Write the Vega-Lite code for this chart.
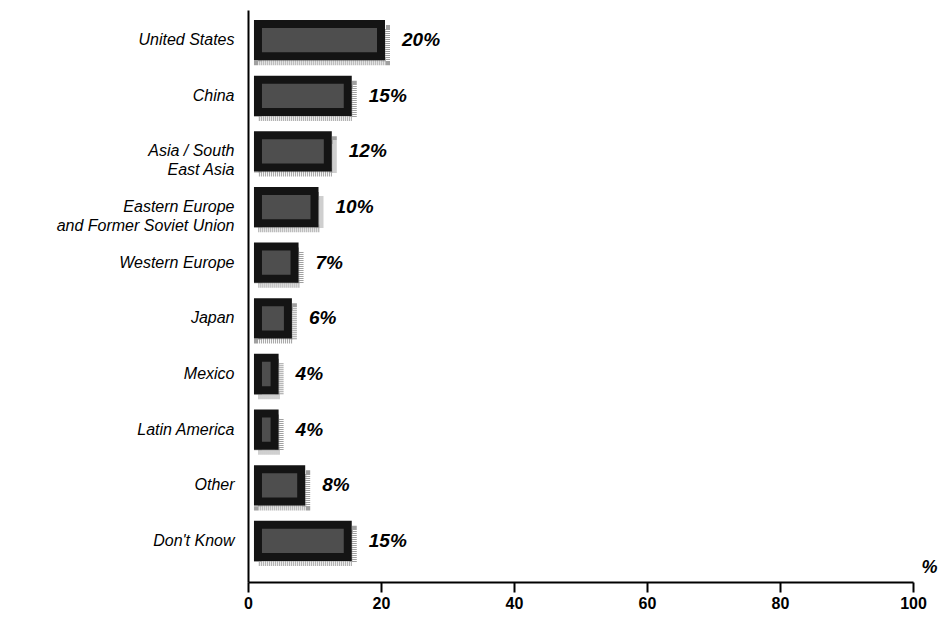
{
  "$schema": "https://vega.github.io/schema/vega-lite/v6.json",
  "width": 665,
  "height": 572,
  "autosize": "none",
  "padding": {"left": 248, "top": 10, "right": 28, "bottom": 36},
  "background": "white",
  "config": {
    "view": {"stroke": null},
    "font": "Liberation Sans"
  },
  "data": {
    "values": [
      {"region": "United States", "pct": 20, "label": "20%"},
      {"region": "China", "pct": 15, "label": "15%"},
      {"region": "Asia / South|East Asia", "pct": 12, "label": "12%"},
      {"region": "Eastern Europe|and Former Soviet Union", "pct": 10, "label": "10%"},
      {"region": "Western Europe", "pct": 7, "label": "7%"},
      {"region": "Japan", "pct": 6, "label": "6%"},
      {"region": "Mexico", "pct": 4, "label": "4%"},
      {"region": "Latin America", "pct": 4, "label": "4%"},
      {"region": "Other", "pct": 8, "label": "8%"},
      {"region": "Don't Know", "pct": 15, "label": "15%"}
    ]
  },
  "encoding": {
    "y": {
      "field": "region",
      "type": "nominal",
      "sort": null,
      "scale": {"paddingInner": 0.42, "paddingOuter": 0.35, "align": 0.36},
      "axis": {
        "title": null,
        "ticks": false,
        "domainColor": "#000",
        "domainWidth": 2,
        "labelPadding": 14,
        "labelFont": "Liberation Sans",
        "labelFontStyle": "italic",
        "labelFontSize": 16,
        "labelColor": "#000",
        "labelLineHeight": 19,
        "labelExpr": "split(datum.label, '|')"
      }
    }
  },
  "layer": [
    {
      "mark": {"type": "bar", "xOffset": 5, "yOffset": 5, "fill": "#d8d8d8", "stroke": "#a0a0a0", "strokeWidth": 8, "strokeDash": [1, 1]},
      "encoding": {
        "x": {"field": "pct", "type": "quantitative"},
        "x2": {"datum": 1.5}
      }
    },
    {
      "mark": {"type": "bar", "fill": "#4e4e4e", "stroke": "#141414", "strokeWidth": 8},
      "encoding": {
        "x": {
          "field": "pct",
          "type": "quantitative",
          "scale": {"domain": [0, 100], "nice": false},
          "axis": {
            "values": [0, 20, 40, 60, 80, 100],
            "grid": false,
            "title": "%",
            "titleFont": "Liberation Sans",
            "titleFontStyle": "italic",
            "titleFontWeight": "bold",
            "titleFontSize": 18,
            "titleColor": "#000",
            "titleAlign": "left",
            "titleBaseline": "middle",
            "titleAnchor": "start",
            "titleX": 673,
            "titleY": -15,
            "domainColor": "#000",
            "domainWidth": 2,
            "tickColor": "#000",
            "tickWidth": 2,
            "tickSize": 10,
            "labelPadding": 3,
            "labelFont": "Liberation Sans",
            "labelFontWeight": "bold",
            "labelFontSize": 16,
            "labelColor": "#000",
            "labelFlush": false
          }
        },
        "x2": {"datum": 1.5}
      }
    },
    {
      "mark": {"type": "text", "align": "left", "baseline": "middle", "dx": 21, "fontSize": 19, "fontWeight": "bold", "fontStyle": "italic", "font": "Liberation Sans", "color": "#000"},
      "encoding": {
        "x": {"field": "pct", "type": "quantitative"},
        "text": {"field": "label"}
      }
    }
  ]
}
